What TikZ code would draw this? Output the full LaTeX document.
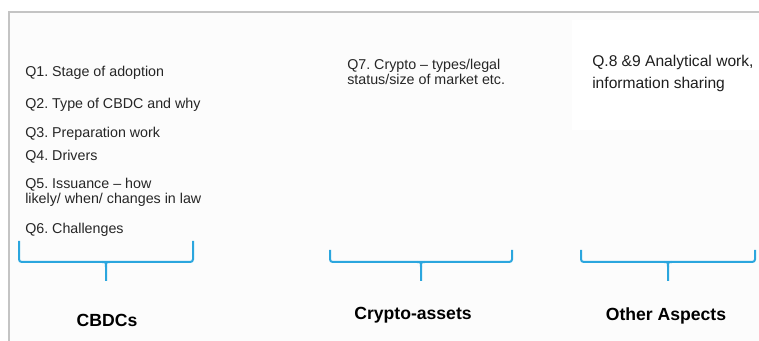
\documentclass[tikz,border=0pt]{standalone}
\usepackage{fontspec}
\setmainfont{Liberation Sans}
\frenchspacing
\definecolor{bracketblue}{HTML}{2BA6DE}
\definecolor{framegray}{HTML}{C4C4C4}
\definecolor{panelbg}{HTML}{FCFCFC}
\tikzset{
  qtext/.style={anchor=west,inner sep=0pt,align=left,text=black!85,font=\fontsize{10.7}{11.2}\selectfont},
  bigq/.style={anchor=west,inner sep=0pt,align=left,text=black!88,font=\fontsize{11.7}{16.5}\selectfont},
  heading/.style={inner sep=0pt,font=\fontsize{13.2}{16}\selectfont\bfseries},
  bracket/.style={bracketblue,line width=1.5pt,rounded corners=2pt},
}
\begin{document}
\begin{tikzpicture}[x=0.75pt,y=-0.75pt]
\useasboundingbox (0,0) rectangle (759,341);
\fill[panelbg] (9,12) rectangle (759,341);
\fill[white] (572,20) rectangle (759,130);
\draw[framegray,line width=1.5pt] (9,341) -- (9,12) -- (759,12);
% CBDC questions
\node[qtext] (q1) at (25,73) {Q1. Stage of adoption};
\node[qtext] (q2) at (25,105) {Q2. Type of CBDC and why};
\node[qtext] (q3) at (25,134) {Q3. Preparation work};
\node[qtext] (q4) at (25,157) {Q4. Drivers};
\node[qtext] (q5) at (25,192) {Q5. Issuance -- how\\likely/ when/ changes in law};
\node[qtext] (q6) at (25,230) {Q6. Challenges};
% crypto and other
\node[qtext] (q7) at (347,72) {Q7. Crypto -- types/legal\\status/size of market etc.};
\node[bigq] (q89) at (592,73) {Q.8 \&9 Analytical work,\\information sharing};
% brackets
\foreach \xa/\xb/\yt in {19/193/241,330/512/250,581/755/250}{
  \pgfmathsetmacro\xm{(\xa+\xb)/2}
  \draw[bracket] (\xa,\yt) -- (\xa,262) -- (\xb,262) -- (\xb,\yt);
  \draw[bracketblue,line width=1.5pt] (\xm-4,262) .. controls (\xm,262) .. (\xm,267) -- (\xm,281);
  \draw[bracketblue,line width=1.5pt] (\xm+4,262) .. controls (\xm,262) .. (\xm,267);
}
\node[heading] (cbdc) at (107,320) {CBDCs};
\node[heading] (crypto) at (413,315) {Crypto-assets};
\node[heading] (other) at (666,316) {Other Aspects};
\end{tikzpicture}
\end{document}
